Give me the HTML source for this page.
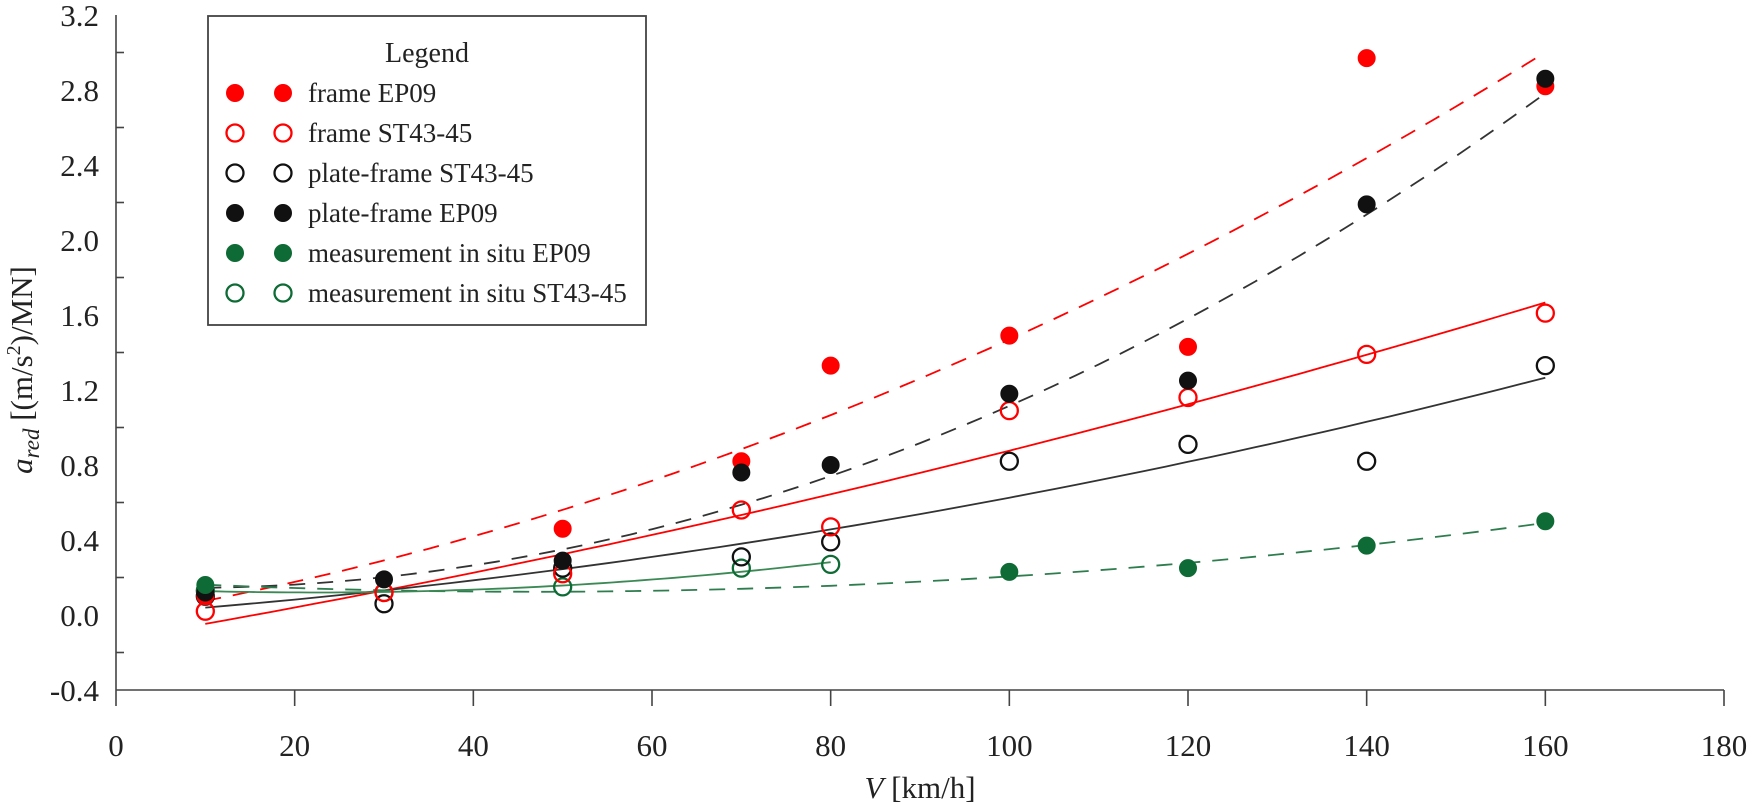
<!DOCTYPE html>
<html><head><meta charset="utf-8">
<style>
html,body{margin:0;padding:0;background:#fff;}
svg{display:block;font-family:"Liberation Serif",serif;}
</style></head>
<body>
<svg id="chart" width="1750" height="809" viewBox="0 0 1750 809">
<g id="grid-layer"></g>
<g id="lines-layer"></g>
<g id="points-layer"></g>
<text x="32" y="370" transform="rotate(-90 32 370)" text-anchor="middle" font-size="31" fill="#222"><tspan font-style="italic">a</tspan><tspan font-style="italic" font-size="23" dy="7">red</tspan><tspan dy="-7"> [(m/s</tspan><tspan font-size="20" dy="-12">2</tspan><tspan dy="12">)/MN]</tspan></text>
<text x="920" y="798" text-anchor="middle" font-size="31" fill="#222"><tspan font-style="italic">V</tspan> [km/h]</text>
<g id="legend">
<rect x="208" y="16" width="438" height="309" fill="#fff" stroke="#444" stroke-width="1.8"></rect>
<text x="427" y="62" text-anchor="middle" font-size="28" fill="#222">Legend</text>
</g>
</svg>
<script>
const xTicks=[0,20,40,60,80,100,120,140,160,180];
const yTicks=[-0.4,0.0,0.4,0.8,1.2,1.6,2.0,2.4,2.8,3.2];
const yTickLabels=["-0.4","0.0","0.4","0.8","1.2","1.6","2.0","2.4","2.8","3.2"];

const frameEP09X=[10,50,70,80,100,120,140,160];
const frameEP09Y=[0.10,0.46,0.82,1.33,1.49,1.43,2.97,2.82];
const frameSTX=[10,30,50,70,80,100,120,140,160];
const frameSTY=[0.02,0.12,0.22,0.56,0.47,1.09,1.16,1.39,1.61];
const plateSTX=[10,30,50,70,80,100,120,140,160];
const plateSTY=[0.10,0.06,0.25,0.31,0.39,0.82,0.91,0.82,1.33];
const plateEP09X=[10,30,50,70,80,100,120,140,160];
const plateEP09Y=[0.12,0.19,0.29,0.76,0.80,1.18,1.25,2.19,2.86];
const measEP09X=[10,100,120,140,160];
const measEP09Y=[0.16,0.23,0.25,0.37,0.50];
const measSTX=[10,30,50,70,80];
const measSTY=[0.13,0.12,0.15,0.25,0.27];

const NS="http://www.w3.org/2000/svg";
const X0=116,X1=1724,Y0=690,Y1=15;
function sx(v){return X0+(v-0)/(180-0)*(X1-X0);}
function sy(v){return Y0-(v+0.4)/(3.6)*(Y0-Y1);}
function mk(tag,attrs,parent){const e=document.createElementNS(NS,tag);for(const k in attrs)e.setAttribute(k,attrs[k]);parent.appendChild(e);return e;}

const grid=document.getElementById('grid-layer');
let ax=mk('line',{x1:X0,y1:Y0,x2:X1,y2:Y0,stroke:'#444','stroke-width':1.6},grid);


let ay=mk('line',{x1:X0,y1:Y0,x2:X0,y2:Y1,stroke:'#444','stroke-width':1.6},grid);


xTicks.forEach(t=>{
  const l=mk('line',{x1:sx(t),y1:Y0,x2:sx(t),y2:Y0+16,stroke:'#444','stroke-width':1.6},grid);
  
  
  const tx=mk('text',{x:sx(t),y:756,'text-anchor':'middle','font-size':31,fill:'#222'},grid);
  tx.textContent=String(t);
  
  
});
yTicks.forEach((t,i)=>{
  const tx=mk('text',{x:99,y:sy(t)+11,'text-anchor':'end','font-size':31,fill:'#222'},grid);
  tx.textContent=yTickLabels[i];
  
  
  if(i<yTicks.length-1){
    const mid=(t+yTicks[i+1])/2;
    const l=mk('line',{x1:X0,y1:sy(mid),x2:X0+8,y2:sy(mid),stroke:'#444','stroke-width':1.6},grid);
    
    
  }
});

function fit2(xs,ys){
  let n=xs.length,s=[0,0,0,0,0],t=[0,0,0];
  for(let i=0;i<n;i++){let p=1;for(let k=0;k<5;k++){s[k]+=p;if(k<3)t[k]+=p*ys[i];p*=xs[i];}}
  const A=[[s[0],s[1],s[2],t[0]],[s[1],s[2],s[3],t[1]],[s[2],s[3],s[4],t[2]]];
  for(let c=0;c<3;c++){for(let r=c+1;r<3;r++){const f=A[r][c]/A[c][c];for(let k=c;k<4;k++)A[r][k]-=f*A[c][k];}}
  const x=[0,0,0];
  for(let r=2;r>=0;r--){let v=A[r][3];for(let k=r+1;k<3;k++)v-=A[r][k]*x[k];x[r]=v/A[r][r];}
  return x;
}
const lines=document.getElementById('lines-layer');
function trend(xs,ys,color,dash,name){
  const c=fit2(xs,ys);const a=Math.min(...xs),b=Math.max(...xs);
  let d='';for(let i=0;i<=60;i++){const v=a+(b-a)*i/60;const y=c[0]+c[1]*v+c[2]*v*v;d+=(i?'L':'M')+sx(v).toFixed(1)+' '+sy(y).toFixed(1);}
  const p=mk('path',{d:d,fill:'none',stroke:color,'stroke-width':1.8},lines);
  if(dash)p.setAttribute('stroke-dasharray','16 12');
  
  
}
const RED='#ff0000',BLK='#111',GRN='#0e6b35';
trend(frameEP09X,frameEP09Y,RED,true,'trend-frame-ep09');
trend(plateEP09X,plateEP09Y,'#333',true,'trend-plate-frame-ep09');
trend(frameSTX,frameSTY,RED,false,'trend-frame-st43-45');
trend(plateSTX,plateSTY,'#333',false,'trend-plate-frame-st43-45');
trend(measEP09X,measEP09Y,'#2e7d4f',true,'trend-measurement-ep09');
trend(measSTX,measSTY,'#3b8a55',false,'trend-measurement-st43-45');

const pts=document.getElementById('points-layer');
function dot(cx,cy,color,filled,parent){
  return mk('circle',{cx:cx,cy:cy,r:filled?8.5:8.5,fill:filled?color:'none',stroke:color,'stroke-width':filled?1:2.3},parent);
}
function series(xs,ys,color,filled,name){
  xs.forEach((v,i)=>{const c=dot(sx(v),sy(ys[i]),color,filled,pts);
    
    });
}
series(measSTX,measSTY,GRN,false,'measurement-st43-45');
series(plateSTX,plateSTY,BLK,false,'plate-frame-st43-45');
series(frameSTX,frameSTY,RED,false,'frame-st43-45');
series(frameEP09X,frameEP09Y,RED,true,'frame-ep09');
series(plateEP09X,plateEP09Y,BLK,true,'plate-frame-ep09');
series(measEP09X,measEP09Y,GRN,true,'measurement-ep09');

const legend=document.getElementById('legend');
const legItems=[["frame EP09",RED,true],["frame ST43-45",RED,false],["plate-frame ST43-45",BLK,false],["plate-frame EP09",BLK,true],["measurement in situ EP09",GRN,true],["measurement in situ ST43-45",GRN,false]];
legItems.forEach((it,i)=>{
  const y=93+i*40;
  const g=mk('g',{},legend);
  
  
  dot(235,y,it[1],it[2],g);dot(283,y,it[1],it[2],g);
  const t=mk('text',{x:308,y:y+9,'font-size':27,fill:'#222'},g);
  t.textContent=it[0];
});
</script>
</body></html>
